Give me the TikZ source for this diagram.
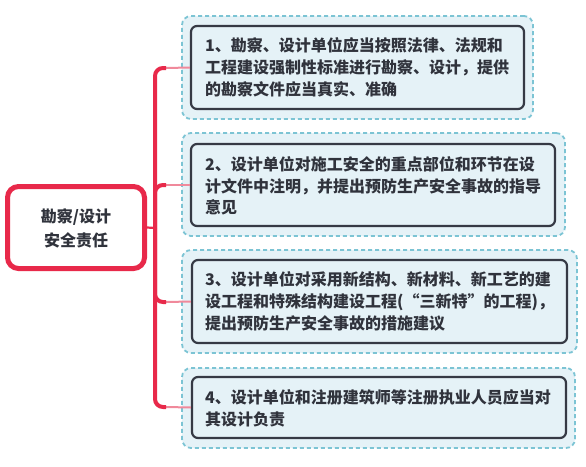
\documentclass[tikz,border=0pt]{standalone}
\usepackage{fontspec}
\setmainfont{Noto Sans CJK SC}
\usetikzlibrary{calc}
\definecolor{treered}{HTML}{E8294A}
\definecolor{twigpink}{HTML}{F0899B}
\definecolor{dashblue}{HTML}{7CC4D4}
\definecolor{boxfill}{HTML}{E5F2F7}
\definecolor{boxline}{HTML}{363A45}
\definecolor{txt}{HTML}{30333C}
\tikzset{
  outerbox/.style={draw=dashblue, fill=boxfill, line width=1.8pt, dash pattern=on 4pt off 3pt, rounded corners=9pt, inner sep=0pt},
  innerbox/.style={draw=boxline, fill=boxfill, line width=2.2pt, rounded corners=6pt, inner sep=0pt},
  rootbox/.style={draw=treered, fill=white, line width=5pt, rounded corners=11pt, inner sep=0pt, minimum width=137pt, minimum height=82pt},
  itemtext/.style={anchor=west, align=left, inner sep=0pt, text=txt, font=\fontsize{16}{21.7}\selectfont\bfseries},
  roottext/.style={align=center, inner sep=0pt, text=txt, font=\fontsize{16}{24}\selectfont\bfseries},
  trunk/.style={draw=treered, line width=4pt, rounded corners=8pt},
  twig/.style={draw=twigpink, line width=2pt},
  rootlink/.style={draw=treered, line width=2.2pt}
}
\begin{document}
\begin{tikzpicture}[x=1pt,y=-1pt]
\useasboundingbox (0,0) rectangle (586,466);
% outer dashed boxes
\node[outerbox, minimum width=351pt, minimum height=103pt] (o1) at (357.5,67.5) {};
\node[outerbox, minimum width=383pt, minimum height=103pt] (o2) at (373.5,184.5) {};
\node[outerbox, minimum width=395pt, minimum height=103pt] (o3) at (379.5,301.5) {};
\node[outerbox, minimum width=393pt, minimum height=80pt] (o4) at (378.5,408) {};
% inner boxes
\node[innerbox, minimum width=333pt, minimum height=83pt] (b1) at (357.5,67.5) {};
\node[innerbox, minimum width=364pt, minimum height=82pt] (b2) at (373,185) {};
\node[innerbox, minimum width=375pt, minimum height=83pt] (b3) at (379.5,301.5) {};
\node[innerbox, minimum width=374pt, minimum height=61pt] (b4) at (379,407.5) {};
% texts
\node[itemtext] (t1) at (205,67.5) {1、勘察、设计单位应当按照法律、法规和\\工程建设强制性标准进行勘察、设计，提供\\的勘察文件应当真实、准确};
\node[itemtext] (t2) at (205,186) {2、设计单位对施工安全的重点部位和环节在设\\计文件中注明，并提出预防生产安全事故的指导\\意见};
\node[itemtext] (t3) at (205,301.5) {3、设计单位对采用新结构、新材料、新工艺的建\\设工程和特殊结构建设工程(“三新特”的工程)，\\提出预防生产安全事故的措施建议};
\node[itemtext] (t4) at (205,408) {4、设计单位和注册建筑师等注册执业人员应当对\\其设计负责};
% root
\node[rootbox] (root) at (76,227.5) {};
\node[roottext] (rt) at (76,228) {勘察/设计\\安全责任};
% tree
\coordinate (j) at (155,228);
\coordinate (s1) at (166,68);
\coordinate (s2) at (166,185);
\coordinate (s3) at (166,302);
\coordinate (s4) at (166,407);
\draw[twig] (s1) -- (b1.west);
\draw[twig] (s2) -- (b2.west);
\draw[twig] (s3) -- (b3.west);
\draw[twig] (s4) -- (b4.west);
\draw[trunk] (j) |- (s1);
\draw[trunk] (j) |- (s2);
\draw[trunk] (j) |- (s3);
\draw[trunk] (j) |- (s4);
\draw[rootlink] (root.east) -- (j);
\end{tikzpicture}
\end{document}
